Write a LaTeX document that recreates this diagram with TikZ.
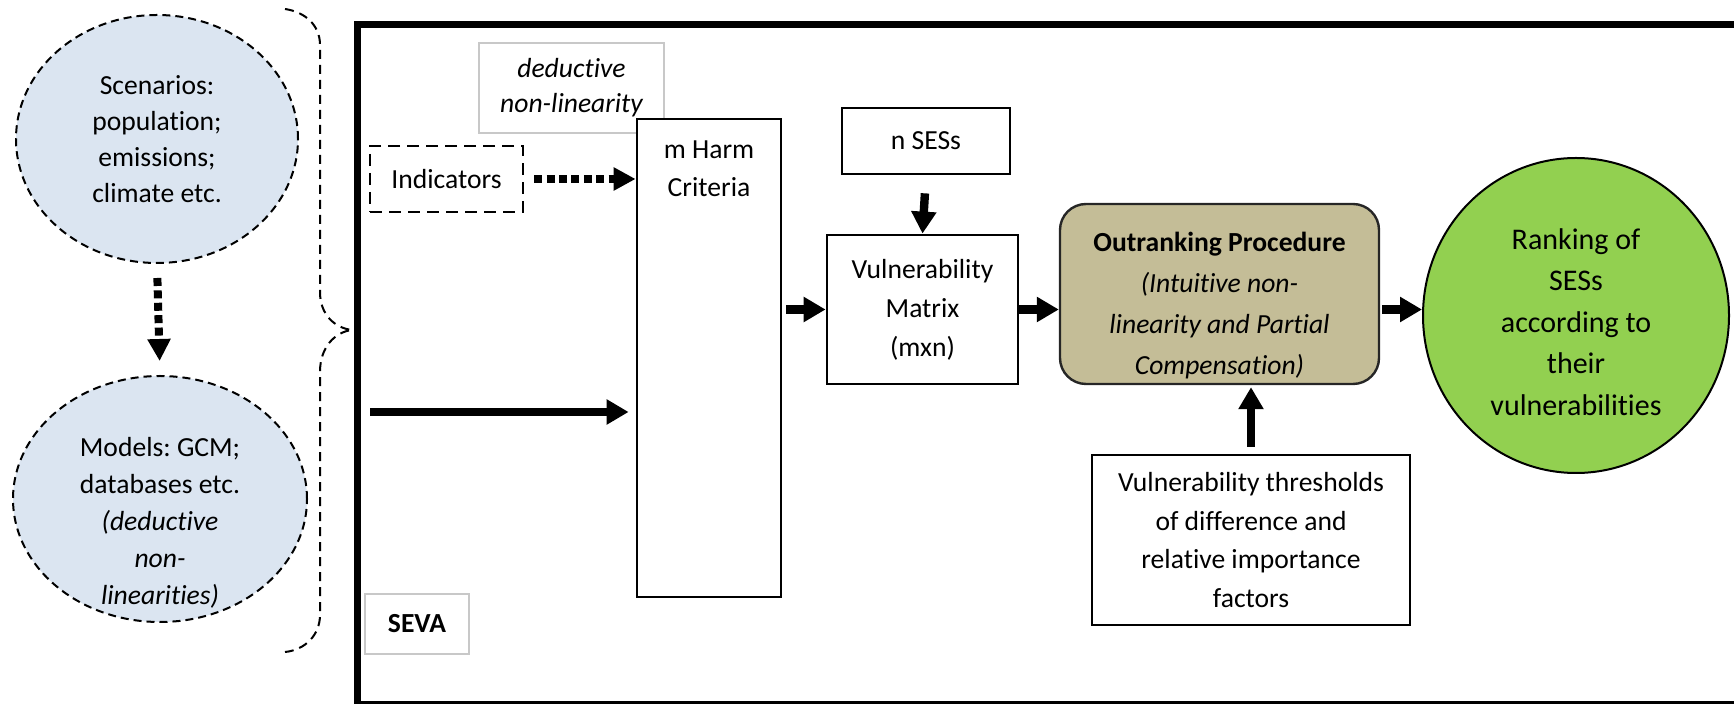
\documentclass[tikz,border=0pt]{standalone}
\usepackage{fontspec}
\setmainfont{Carlito}[Ligatures={NoCommon}]
\frenchspacing
\usetikzlibrary{arrows.meta,shapes.geometric}

\definecolor{scenfill}{HTML}{DBE5F1}
\definecolor{outrfill}{HTML}{C4BD97}
\definecolor{rankfill}{HTML}{92D050}
\definecolor{faintedge}{HTML}{C8C8C8}

\tikzset{
  txt/.style={font=\fontsize{13.8}{18}\selectfont, align=center, inner sep=0pt},
  scenario/.style={ellipse, draw=black, fill=scenfill, line width=1pt,
    dash pattern=on 4pt off 2.5pt, inner sep=0pt},
  plainbox/.style={rectangle, draw=black, fill=white, line width=1.4pt, inner sep=0pt},
  faintbox/.style={rectangle, draw=faintedge, fill=white, line width=0.6pt, inner sep=0pt},
  dashbox/.style={rectangle, draw=black, fill=white, line width=1.2pt,
    dash pattern=on 6pt off 3.5pt, inner sep=0pt},
  arr/.style={line width=4.2pt, -{Triangle[length=11pt,width=12pt]}},
  dotarr/.style={line width=4pt, dash pattern=on 4pt off 2.2pt,
    -{Triangle[length=11pt,width=11pt]}},
  bracestyle/.style={line width=1pt, dash pattern=on 4.5pt off 3pt},
}

\begin{document}
\begin{tikzpicture}[x=0.5pt,y=-0.5pt]
\useasboundingbox (0,0) rectangle (1734,704);

% input ellipses on the left
\node[scenario, minimum width=141pt, minimum height=124pt, txt] (scen) at (157,139)
  {Scenarios:\\population;\\emissions;\\climate etc.};
\node[scenario, minimum width=147pt, minimum height=123pt] (models) at (160,499) {};
\node[txt, font=\fontsize{13.8}{18.5}\selectfont] (modelstext) at (160,523)
  {Models: GCM;\\databases etc.\\\textit{(deductive}\\\textit{non-}\\\textit{linearities)}};
\draw[dotarr, shorten <=7pt, shorten >=7pt] (scen.south) -- (models.north);

% curly brace joining the inputs to the framework
\draw[bracestyle] (285,9) .. controls (305,12) and (320,25) .. (320,45)
  -- (320,292) .. controls (320,315) and (335,328) .. (352,330)
  .. controls (335,332) and (320,347) .. (320,372)
  -- (320,615) .. controls (320,635) and (305,650) .. (285,652);

% SEVA framework frame
\draw[line width=3.5pt] (357,25) rectangle (1738,705);

% framework contents
\node[faintbox, minimum width=92.5pt, minimum height=45pt, txt,
  font=\fontsize{13.8}{17.5}\selectfont\itshape] (ded) at (571.5,88)
  {deductive\\non-linearity};
\node[plainbox, minimum width=72pt, minimum height=239pt] (harm) at (709,358) {};
\node[txt, font=\fontsize{13.8}{19}\selectfont] (harmtext) at (709,169) {m Harm\\Criteria};
\node[dashbox, minimum width=76.5pt, minimum height=33pt, txt] (ind) at (446.5,179) {Indicators};
\node[plainbox, minimum width=84pt, minimum height=33pt, txt] (nses) at (926,141) {n SESs};
\node[plainbox, minimum width=95.5pt, minimum height=74.5pt, txt,
  font=\fontsize{13.8}{19.5}\selectfont] (matrix) at (922.5,309.5)
  {Vulnerability\\Matrix\\(mxn)};
\node[rectangle, rounded corners=13pt, draw=black!85, fill=outrfill, line width=1.2pt,
  minimum width=159.5pt, minimum height=90pt] (outr) at (1219.5,294) {};
\node[txt, font=\fontsize{13.8}{20.5}\selectfont] (outrtext) at (1219.5,306)
  {\textbf{Outranking Procedure}\\\textit{(Intuitive non-}\\\textit{linearity and Partial}\\\textit{Compensation)}};
\node[ellipse, draw=black, fill=rankfill, line width=1pt, inner sep=0pt,
  minimum width=153pt, minimum height=157.5pt] (rank) at (1576,315.5) {};
\node[txt, font=\fontsize{15}{20.8}\selectfont] (ranktext) at (1576,322)
  {Ranking of\\SESs\\according to\\their\\vulnerabilities};
\node[plainbox, minimum width=159pt, minimum height=85pt, txt,
  font=\fontsize{13.8}{19.3}\selectfont] (thr) at (1251,540)
  {Vulnerability thresholds\\of difference and\\relative importance\\factors};
\node[faintbox, minimum width=52pt, minimum height=30pt, txt] (seva) at (417,624)
  {\textbf{SEVA}};

% connectors
\coordinate (feed) at (370,412);
\draw[dotarr, shorten <=5pt] (ind.east) -- (ind.east -| harm.west);
\draw[arr, shorten >=3.5pt] (feed) -- (feed -| harm.west);
\draw[arr, shorten <=2pt] (harm.east |- matrix.west) -- (matrix.west);
\draw[arr, shorten <=9pt] (nses.south) -- (matrix.north);
\draw[arr] (matrix.east) -- (matrix.east -| outr.west);
\draw[arr, shorten <=1pt] (outr.east |- matrix.east) -- (rank.west |- matrix.east);
\draw[arr, shorten <=3.5pt, shorten >=1pt] (thr.north) -- (thr.north |- outr.south);
\end{tikzpicture}
\end{document}
